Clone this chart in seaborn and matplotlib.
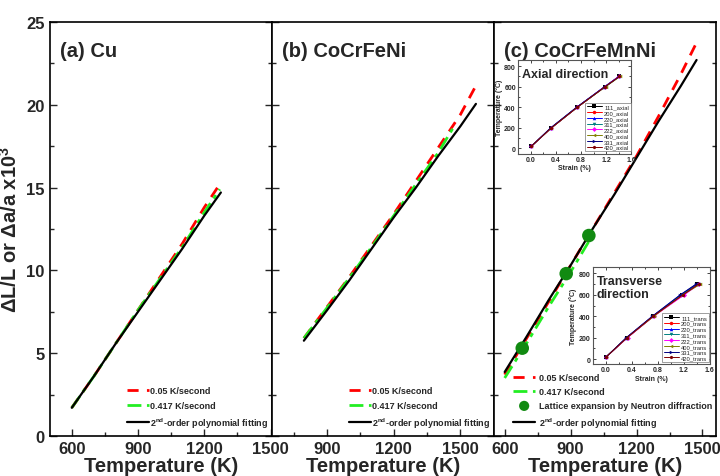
import matplotlib.pyplot as plt
import seaborn as sns
from matplotlib.ticker import MultipleLocator

# Panel (a) Cu
cuTempSlow = [600, 700, 800, 900, 1000, 1100, 1200, 1275]
cuSlow = [1.7, 3.6, 5.6, 7.6, 9.6, 11.6, 13.8, 15.3]
cuTempFast = [600, 700, 800, 900, 1000, 1100, 1200, 1270]
cuFast = [1.7, 3.6, 5.6, 7.6, 9.5, 11.4, 13.5, 14.9]
cuTempFit = [600, 700, 800, 900, 1000, 1100, 1200, 1275]
cuFit = [1.7, 3.6, 5.6, 7.5, 9.4, 11.3, 13.3, 14.7]

# Panel (b) CoCrFeNi
cfnTempSlow = [795, 900, 1000, 1100, 1200, 1300, 1400, 1500, 1572]
cfnSlow = [5.9, 7.8, 9.6, 11.5, 13.4, 15.4, 17.4, 19.4, 21.2]
cfnTempFast = [795, 900, 1000, 1100, 1200, 1300, 1400, 1474]
cfnFast = [5.9, 7.75, 9.55, 11.4, 13.3, 15.2, 17.1, 18.75]
cfnTempFit = [795, 900, 1000, 1100, 1200, 1300, 1400, 1500, 1570]
cfnFit = [5.75, 7.6, 9.4, 11.3, 13.2, 15.0, 16.9, 18.7, 20.05]

# Panel (c) CoCrFeMnNi
cfmnTempSlow = [600, 700, 800, 900, 1000, 1100, 1200, 1300, 1400, 1475]
cfmnSlow = [3.7, 5.9, 8.1, 10.3, 12.5, 14.7, 16.9, 19.3, 21.8, 23.8]
cfmnTempFast = [600, 700, 800, 900, 990]
cfmnFast = [3.5, 5.6, 7.8, 9.9, 11.9]
cfmnTempFit = [600, 700, 800, 900, 1000, 1100, 1200, 1300, 1400, 1473]
cfmnFit = [3.86, 6.0, 8.2, 10.3, 12.5, 14.6, 16.8, 19.0, 21.1, 22.7]
neutronTemp = [680, 880, 983]
neutronStrain = [5.3, 9.8, 12.1]

# insets: lattice strain vs temperature per reflection
reflections = ["111", "200", "220", "311", "222", "400", "331", "420"]
insetTemp = [20, 200, 400, 600, 700]
axialStrain = [
    [0.01, 0.33, 0.74, 1.18, 1.40],
    [0.01, 0.33, 0.74, 1.18, 1.41],
    [0.01, 0.32, 0.73, 1.17, 1.40],
    [0.01, 0.33, 0.74, 1.18, 1.41],
    [0.01, 0.33, 0.74, 1.18, 1.40],
    [0.01, 0.33, 0.74, 1.19, 1.42],
    [0.01, 0.32, 0.73, 1.18, 1.41],
    [0.01, 0.33, 0.74, 1.18, 1.41],
]
transStrain = [
    [0.01, 0.33, 0.73, 1.17, 1.41],
    [0.01, 0.33, 0.74, 1.20, 1.42],
    [0.01, 0.32, 0.72, 1.15, 1.40],
    [0.01, 0.33, 0.73, 1.17, 1.43],
    [0.01, 0.34, 0.74, 1.21, 1.44],
    [0.01, 0.33, 0.74, 1.18, 1.46],
    [0.01, 0.32, 0.72, 1.15, 1.39],
    [0.01, 0.33, 0.73, 1.19, 1.43],
]
insetColors = ["black", "red", "blue", "#008080", "magenta", "#808000", "#000080", "#800000"]
insetMarkers = ["s", "o", "^", "v", "D", "<", ">", "h"]

sns.set_style("ticks")
plt.rcParams['font.family'] = ['Liberation Sans', 'DejaVu Sans']
plt.rcParams['font.weight'] = 'bold'
plt.rcParams['mathtext.fontset'] = 'custom'
plt.rcParams['mathtext.rm'] = 'Liberation Sans:bold'
plt.rcParams['mathtext.bf'] = 'Liberation Sans:bold'
plt.rcParams['mathtext.default'] = 'bf'

fig, axes = plt.subplots(1, 3, sharey=True, figsize=(7.2, 4.77), dpi=100)
fig.subplots_adjust(left=0.069, right=0.994, bottom=0.084, top=0.952, wspace=0)

slowDash = (0, (4, 3))
fastDash = (0, (5, 2, 1.5, 2))
green = "#22ee22"

panels = [
    ("(a) Cu", cuTempSlow, cuSlow, cuTempFast, cuFast, cuTempFit, cuFit, (500, 1505)),
    ("(b) CoCrFeNi", cfnTempSlow, cfnSlow, cfnTempFast, cfnFast, cfnTempFit, cfnFit, (650, 1650)),
    ("(c) CoCrFeMnNi", cfmnTempSlow, cfmnSlow, cfmnTempFast, cfmnFast, cfmnTempFit, cfmnFit, (550, 1560)),
]

for i, (title, tS, vS, tF, vF, tFit, vFit, xlim) in enumerate(panels):
    ax = axes[i]
    sns.lineplot(x=tS, y=vS, ax=ax, color="red", linestyle=slowDash, lw=2, label="0.05 K/second")
    sns.lineplot(x=tF, y=vF, ax=ax, color=green, linestyle=fastDash, lw=2, label="0.417 K/second")
    if i == 2:
        sns.scatterplot(x=neutronTemp, y=neutronStrain, ax=ax, color="#118a11", s=95,
                        edgecolor="none", zorder=5, label="Lattice expansion by Neutron diffraction")
    sns.lineplot(x=tFit, y=vFit, ax=ax, color="black", lw=1.6,
                 label="2$^{nd}$-order polynomial fitting")
    ax.set_xlim(xlim)
    ax.set_ylim(0, 25)
    ax.xaxis.set_major_locator(MultipleLocator(300))
    ax.xaxis.set_minor_locator(MultipleLocator(150))
    ax.yaxis.set_major_locator(MultipleLocator(5))
    ax.yaxis.set_minor_locator(MultipleLocator(2.5))
    ax.tick_params(which="both", direction="in", right=True, left=True, top=False, labelsize=12)
    ax.tick_params(which="major", length=5, width=1)
    ax.tick_params(which="minor", length=3, width=1)
    for lab in ax.get_xticklabels() + ax.get_yticklabels():
        lab.set_fontweight("bold")
    for sp in ax.spines.values():
        sp.set_linewidth(1.2)
        sp.set_color("black")
    ax.set_xlabel("Temperature (K)", fontsize=14.5, fontweight="bold", labelpad=0)
    ax.text(0.045, 0.955, title, transform=ax.transAxes, fontsize=14.5, fontweight="bold", va="top")
    if i < 2:
        ax.legend(loc="lower left", bbox_to_anchor=(0.32, 0.0), frameon=False, fontsize=6.5,
                  handlelength=2.4, labelspacing=0.6, handletextpad=0.1, borderaxespad=0.3)
    else:
        ax.legend(loc="lower left", bbox_to_anchor=(0.06, 0.0), frameon=False, fontsize=6.5,
                  handlelength=2.4, labelspacing=0.55, handletextpad=0.4, borderaxespad=0.3,
                  markerscale=0.75)

axes[0].set_ylabel("ΔL/L or Δa/a x10$^3$", fontsize=14.5, fontweight="bold")

# the two insets in panel (c)
insets = [
    ([0.7194, 0.676, 0.1575, 0.196], axialStrain, "axial", "Axial direction"),
    ([0.823, 0.234, 0.1625, 0.204], transStrain, "trans", "Transverse\ndirection"),
]
for box, strainSet, tag, label in insets:
    ins = fig.add_axes(box)
    for j, ref in enumerate(reflections):
        sns.lineplot(x=strainSet[j], y=insetTemp, ax=ins, color=insetColors[j], marker=insetMarkers[j],
                     markersize=2.5, markeredgewidth=0, lw=0.7, label=ref + "_" + tag)
    ins.set_xlim(-0.2, 1.6)
    ins.set_ylim(-50, 860)
    ins.xaxis.set_major_locator(MultipleLocator(0.4))
    ins.xaxis.set_minor_locator(MultipleLocator(0.2))
    ins.yaxis.set_major_locator(MultipleLocator(200))
    ins.yaxis.set_minor_locator(MultipleLocator(100))
    ins.tick_params(which="both", direction="in", top=True, right=True, labelsize=5, pad=1.5)
    ins.tick_params(which="major", length=2.5, width=0.6)
    ins.tick_params(which="minor", length=1.5, width=0.6)
    ins.xaxis.set_major_formatter(plt.FormatStrFormatter("%.1f"))
    for lab in ins.get_xticklabels() + ins.get_yticklabels():
        lab.set_fontweight("bold")
    for sp in ins.spines.values():
        sp.set_linewidth(0.8)
        sp.set_color("#555555")
    ins.set_xlabel("Strain (%)", fontsize=5, fontweight="bold", labelpad=1)
    ins.set_ylabel("Temperature (°C)", fontsize=5, fontweight="bold", labelpad=1)
    ins.text(0.035, 0.92, label, transform=ins.transAxes, fontsize=9, fontweight="bold",
             va="top", linespacing=1.1)
    leg = ins.legend(loc="lower right", bbox_to_anchor=(0.995, 0.025), fontsize=4.2, frameon=True,
                     fancybox=False, edgecolor="#777777", handlelength=2.6, labelspacing=0.12,
                     borderpad=0.25, handletextpad=0.4, borderaxespad=0, framealpha=1)
    leg.get_frame().set_linewidth(0.5)
    for t in leg.get_texts():
        t.set_fontweight("normal")

fig.savefig("out.png", dpi=100)
